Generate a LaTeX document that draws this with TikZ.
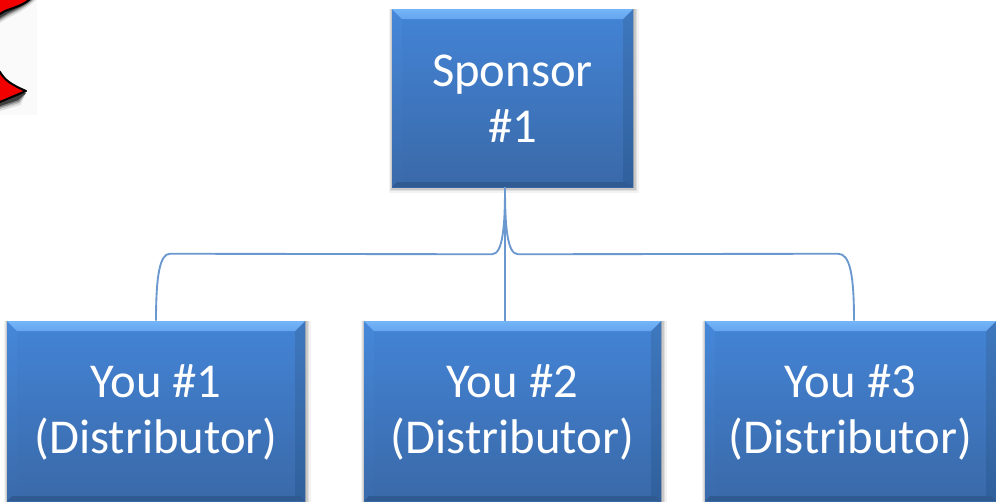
\documentclass[tikz,border=0pt]{standalone}
\usepackage{fontspec}
\setmainfont{Carlito}
\usetikzlibrary{calc}
\definecolor{faceTop}{HTML}{4384D6}
\definecolor{faceBot}{HTML}{3A69A8}
\definecolor{bevelTop}{HTML}{74B4F8}
\definecolor{bevelBot}{HTML}{2F5A92}
\definecolor{bevelRightT}{HTML}{3F78BE}
\definecolor{bevelRightB}{HTML}{30609C}
\definecolor{bevelLeftT}{HTML}{4688DA}
\definecolor{bevelLeftB}{HTML}{3A6AAA}
\definecolor{linkblue}{HTML}{6A98CF}
\tikzset{
  x=0.75pt,y=-0.75pt,
  boxlabel/.style={text=white,font=\fontsize{36.5}{42}\selectfont,align=center,inner sep=0pt},
  linkline/.style={draw=linkblue,line width=1.4pt},
}
\newcommand{\bevelbox}[6]{%
  % name, x0, y0, x1, y1, text
  \foreach \g/\o in {6/0.05,4/0.07,2.5/0.10,1/0.14}{
    \fill[black,opacity=\o] (#2-\g*0.5,#3) rectangle (#4+\g,#5+\g);
  }
  \shade[top color=faceTop,bottom color=faceBot] (#2,#3) rectangle (#4,#5);
  \shade[top color=bevelLeftT,bottom color=bevelLeftB] (#2,#3) -- (#2+10,#3+10) -- (#2+10,#5-5) -- (#2,#5) -- cycle;
  \shade[top color=bevelRightT,bottom color=bevelRightB] (#4,#3) -- (#4-10,#3+10) -- (#4-10,#5-5) -- (#4,#5) -- cycle;
  \shade[top color=bevelTop,bottom color=bevelTop!70!faceTop] (#2,#3) -- (#4,#3) -- (#4-10,#3+10) -- (#2+10,#3+10) -- cycle;
  \fill[bevelBot] (#2,#5) -- (#4,#5) -- (#4-5,#5-5) -- (#2+5,#5-5) -- cycle;
  \path let \p1=(#2,#3), \p2=(#4,#5), \n1={abs(\x2-\x1)}, \n2={abs(\y2-\y1)} in
    node[boxlabel,minimum width=\n1,minimum height=\n2] (#1) at ({(#2+#4)/2},{(#3+#5)/2+1}) {#6};
}
\begin{document}
\begin{tikzpicture}
\useasboundingbox (0,0) rectangle (996,501);
\fill[white] (0,0) rectangle (996,501);
% clipped picture fragment
\begin{scope}
  \clip (0,0) rectangle (37,115);
  \fill[black!2] (0,0) rectangle (37,115);
  \foreach \s/\o in {5/0.10,3/0.18,1.5/0.3,0/0.5}{
    \fill[black,opacity=\o,line join=round] (-5,17+\s+4) -- (8,13+\s) .. controls (16,9+\s) and (26,5+\s) .. (34+\s,-3) -- (-5,-5) -- cycle;
    \fill[black,opacity=\o,line join=round] (-5,96) -- (26,93) -- (18+\s*0.5,100+\s) -- (0,106+\s) -- (-5,107+\s) -- cycle;
  }
  \fill[red!95!black,draw=black,line width=1.5pt,line join=round] (-5,17) -- (5,11) .. controls (15,7) and (25,5) .. (32,-3) -- (-5,-5) -- cycle;
  \fill[red!95!black,draw=black,line width=1.5pt,line join=round] (-5,68) -- (0,72) .. controls (5,80) and (10,84) .. (26,91) -- (0,102) -- (-5,103) -- cycle;
\end{scope}
% boxes
\bevelbox{sponsor}{392}{9}{633}{187}{Sponsor\\\#1}
\bevelbox{youa}{7}{321}{305}{501}{You \#1\\(Distributor)}
\bevelbox{youb}{364}{321}{661}{501}{You \#2\\(Distributor)}
\bevelbox{youc}{705}{321}{996}{501}{You \#3\\(Distributor)}
% connectors
\coordinate (top) at ($(sponsor.south)+(-7.5,-1)$);
\coordinate (enda) at ($(youa.north)+(0,-1)$);
\coordinate (endb) at ($(youb.north)+(-7.5,-1)$);
\coordinate (endc) at ($(youc.north)+(3.5,-1)$);
\draw[linkline] (top) -- (endb);
\draw[linkline] (top) .. controls ($(top)+(0,38)$) and ($(top)+(-2,67)$) .. ($(top)+(-13,67)$) -- ($(enda)+(14,-67)$)
   .. controls ($(enda)+(4,-67)$) and ($(enda)+(0,-46)$) .. (enda);
\draw[linkline] (top) .. controls ($(top)+(0,38)$) and ($(top)+(2,67)$) .. ($(top)+(13,67)$) -- ($(endc)+(-16,-67)$)
   .. controls ($(endc)+(-4,-67)$) and ($(endc)+(0,-46)$) .. (endc);
\end{tikzpicture}
\end{document}
